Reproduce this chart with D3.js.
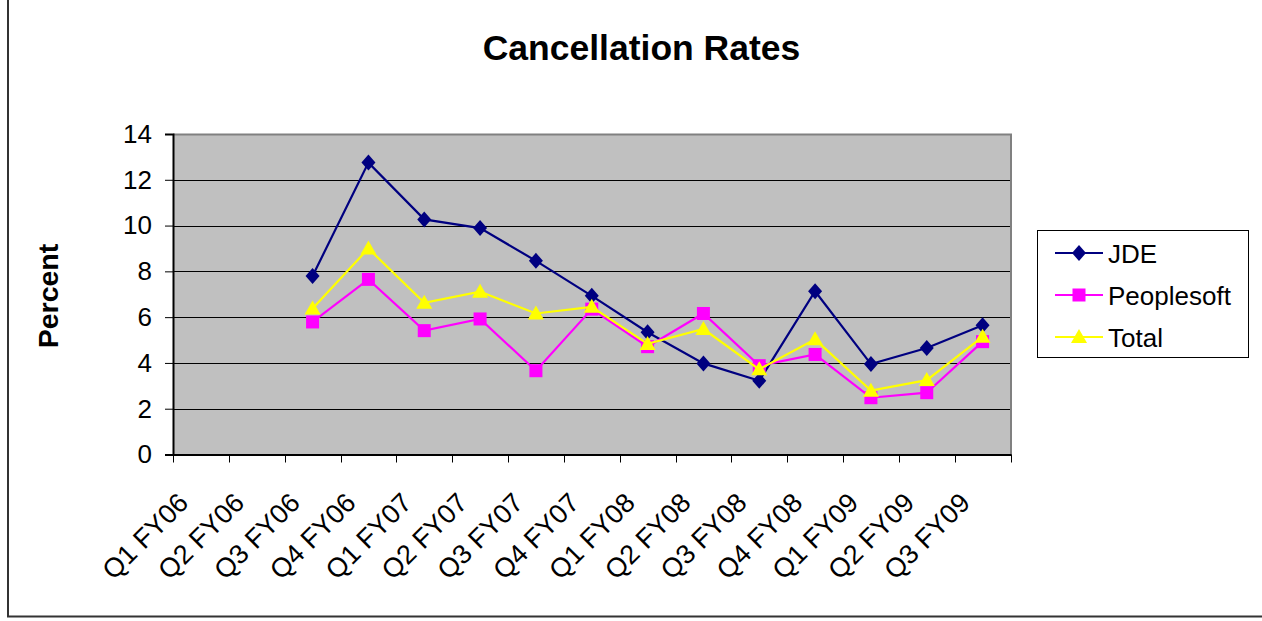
<!DOCTYPE html>
<html><head><meta charset="utf-8">
<script src="https://cdn.jsdelivr.net/npm/d3@7"></script>
<style>body{margin:0;background:#fff}svg{display:block}text{font-family:"Liberation Sans",Arial,sans-serif}</style>
</head><body>
<svg id="c" width="1262" height="621"></svg>
<script>
const categories = ["Q1 FY06","Q2 FY06","Q3 FY06","Q4 FY06","Q1 FY07","Q2 FY07","Q3 FY07","Q4 FY07","Q1 FY08","Q2 FY08","Q3 FY08","Q4 FY08","Q1 FY09","Q2 FY09","Q3 FY09"];
const jde        = [null,null,7.8,12.75,10.27,9.89,8.46,6.93,5.34,3.98,3.22,7.13,3.95,4.65,5.65];
const peoplesoft = [null,null,5.79,7.65,5.41,5.92,3.66,6.35,4.71,6.16,3.88,4.37,2.48,2.70,4.93];
const total      = [null,null,6.38,9.0,6.63,7.11,6.16,6.45,4.83,5.48,3.72,5.03,2.79,3.25,5.14];
const yTicks = [0,2,4,6,8,10,12,14];
const seriesNames = ["JDE","Peoplesoft","Total"];
const title = "Cancellation Rates";
const yTitle = "Percent";

const svg = d3.select("#c");
const L=173, R=1010.5, T=134, B=454.5;
const x = d3.scaleBand().domain(categories).range([L,R]);
const y = d3.scaleLinear().domain([0,14]).range([B,T]);

// outer border
svg.append("line").attr("x1",8).attr("x2",8).attr("y1",0).attr("y2",617).attr("stroke","#333").attr("stroke-width",2);
svg.append("line").attr("x1",7).attr("x2",1262).attr("y1",616.5).attr("y2",616.5).attr("stroke","#333").attr("stroke-width",2);

// plot bg
svg.append("rect").attr("x",L).attr("y",T).attr("width",R-L).attr("height",B-T).attr("fill","#c0c0c0");
// gridlines
svg.append("g").selectAll("line").data(yTicks.filter(d=>d>0&&d<14)).join("line")
  .attr("x1",L).attr("x2",R).attr("y1",d=>Math.round(y(d))+0.5).attr("y2",d=>Math.round(y(d))+0.5)
  .attr("stroke","#000").attr("stroke-width",1);
// plot border top/right
svg.append("path").attr("d",`M${L},${T+0.5}H${R+0.5}V${B}`).attr("fill","none").attr("stroke","#808080").attr("stroke-width",2);

// axes
const yAxis = d3.axisLeft(y).tickValues(yTicks).tickSize(8).tickPadding(13);
const gy = svg.append("g").attr("transform",`translate(${L},0)`).call(yAxis);
gy.select(".domain").attr("stroke","#000").attr("stroke-width",2);
gy.selectAll(".tick line").attr("stroke","#000");
gy.selectAll("text").attr("font-size",26).attr("fill","#000").attr("font-family","Liberation Sans, Arial, sans-serif");

const xTickPos = categories.map(c=>x(c)).concat([R]);
svg.append("line").attr("x1",L-8).attr("x2",R+1).attr("y1",B+0.5).attr("y2",B+0.5).attr("stroke","#000").attr("stroke-width",2);
svg.append("g").selectAll("line").data(xTickPos).join("line")
  .attr("x1",d=>Math.round(d)+0.5).attr("x2",d=>Math.round(d)+0.5).attr("y1",B).attr("y2",B+8).attr("stroke","#000");
svg.append("g").selectAll("text").data(categories).join("text")
  .attr("transform",d=>`translate(${x(d)+x.bandwidth()/2-11},${B+50}) rotate(-45)`)
  .attr("text-anchor","end").attr("font-size",27).attr("fill","#000").text(d=>d);

// titles
svg.append("text").attr("x",641.5).attr("y",60).attr("text-anchor","middle").attr("font-size",35.5).attr("font-weight","bold").text(title);
svg.append("text").attr("transform","translate(58,296) rotate(-90)").attr("text-anchor","middle").attr("font-size",28.5).attr("font-weight","bold").text(yTitle);

// series
const colors = ["#000080","#ff00ff","#ffff00"];
const data = [jde,peoplesoft,total];
const cx = (i)=>x(categories[i])+x.bandwidth()/2;
const line = d3.line().defined(d=>d.v!=null).x(d=>cx(d.i)).y(d=>y(d.v));
function drawMarker(g, k, px, py){
  if(k===0){
    g.append("path").attr("d",`M${px},${py-8}L${px+7},${py}L${px},${py+8}L${px-7},${py}Z`).attr("fill",colors[0]);
  } else if(k===1){
    g.append("rect").attr("x",px-6.5).attr("y",py-6.5).attr("width",13).attr("height",13).attr("fill",colors[1]);
  } else {
    g.append("path").attr("d",`M${px},${py-8}L${px+8},${py+6}L${px-8},${py+6}Z`).attr("fill",colors[2]);
  }
}
data.forEach((arr,k)=>{
  const pts = arr.map((v,i)=>({v,i}));
  const g = svg.append("g");
  g.append("path").datum(pts).attr("d",line).attr("fill","none").attr("stroke",colors[k]).attr("stroke-width",2.2);
  pts.filter(d=>d.v!=null).forEach(d=>drawMarker(g,k,cx(d.i),y(d.v)));
});

// legend
svg.append("rect").attr("x",1037.5).attr("y",230.5).attr("width",211).attr("height",127).attr("fill","#fff").attr("stroke","#000").attr("stroke-width",1);
seriesNames.forEach((n,k)=>{
  const ly = 253 + k*42;
  const g = svg.append("g");
  g.append("line").attr("x1",1055).attr("x2",1103).attr("y1",ly).attr("y2",ly).attr("stroke",colors[k]).attr("stroke-width",2.2);
  drawMarker(g,k,1079,ly);
  g.append("text").attr("x",1108).attr("y",ly+9.5).attr("font-size",26).text(n);
});
</script>
</body></html>
